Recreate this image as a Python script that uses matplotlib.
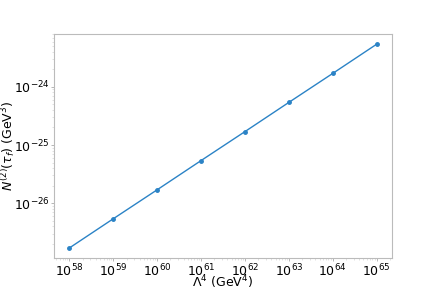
import numpy as np
import matplotlib
matplotlib.use("Agg")
import matplotlib.pyplot as plt

plt.rcParams['axes.unicode_minus'] = False

# Lambda^4 values (GeV^4) and N^(2)(tau_f) (GeV^3)
lam4 = [1e58, 1e59, 1e60, 1e61, 1e62, 1e63, 1e64, 1e65]
n2 = [1.7e-27, 5.4e-27, 1.7e-26, 5.4e-26, 1.7e-25, 5.4e-25, 1.7e-24, 5.4e-24]

fig = plt.figure(figsize=(4.36, 2.91), dpi=100)
ax = fig.add_axes([0.124, 0.113, 0.775, 0.77])
ax.plot(lam4, n2, marker='o', markersize=2.5, linewidth=1.0, color='#2b83c6')
ax.set_xscale('log')
ax.set_yscale('log')

ax.set_xticks(lam4)
ax.set_yticks([1e-26, 1e-25, 1e-24])
ax.tick_params(axis='both', which='major', labelsize=9, length=2, width=0.6, color='#aaaaaa', pad=1)
ax.tick_params(axis='both', which='minor', length=1.2, width=0.4, color='#cccccc')

for s in ax.spines.values():
    s.set_color('#bbbbbb')
    s.set_linewidth(0.8)

ax.set_xlabel(r'$\Lambda^4$ (GeV$^4$)', fontsize=9, va='bottom')
ax.set_ylabel(r'$N^{(2)}(\tau_f)$ (GeV$^3$)', fontsize=9, va='center')
ax.xaxis.set_label_coords(0.5, -0.147)
ax.yaxis.set_label_coords(-0.135, 0.5)

fig.savefig('out.png', dpi=100)
